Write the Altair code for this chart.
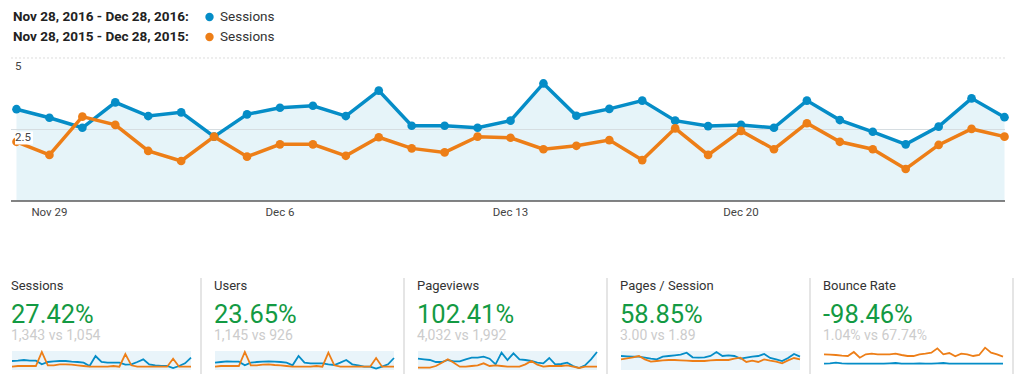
import altair as alt
import pandas as pd

# ---------------- data ----------------
days = list(range(31))  # Nov 28 .. Dec 28
sessions_2016 = [3.21, 2.91, 2.56, 3.45, 2.97, 3.10, 2.25, 3.03, 3.26, 3.33, 2.97,
                 3.86, 2.63, 2.63, 2.56, 2.81, 4.11, 2.98, 3.22, 3.51, 2.81, 2.62,
                 2.66, 2.56, 3.51, 2.83, 2.42, 1.98, 2.60, 3.59, 2.93]
sessions_2015 = [2.07, 1.61, 2.95, 2.66, 1.75, 1.40, 2.25, 1.55, 1.98, 1.98, 1.58,
                 2.23, 1.84, 1.70, 2.25, 2.21, 1.81, 1.93, 2.13, 1.43, 2.54, 1.61,
                 2.45, 1.81, 2.72, 2.07, 1.81, 1.12, 1.96, 2.52, 2.25]
tick_days = [1, 8, 15, 22]
tick_labels = ["Nov 29", "Dec 6", "Dec 13", "Dec 20"]
grid_values = [2.5, 5]
grid_labels = ["2.5", "5"]
legend_ranges = ["Nov 28, 2016 - Dec 28, 2016:", "Nov 28, 2015 - Dec 28, 2015:"]
legend_metric = ["Sessions", "Sessions"]

panel_titles = ["Sessions", "Users", "Pageviews", "Pages / Session", "Bounce Rate"]
panel_changes = ["27.42%", "23.65%", "102.41%", "58.85%", "-98.46%"]
panel_compare = ["1,343 vs 1,054", "1,145 vs 926", "4,032 vs 1,992", "3.00 vs 1.89", "1.04% vs 67.74%"]

spark_blue = [
    [27, 28, 30, 28, 28, 17, 24, 26, 27, 27, 25, 24, 22, 12, 42, 24, 22, 22, 22, 16, 17, 24, 32, 17, 14, 12, 12, 6, 12, 20, 37],
    [22, 24, 26, 25, 25, 14, 22, 24, 25, 26, 25, 24, 22, 14, 42, 22, 20, 20, 20, 17, 15, 22, 30, 17, 14, 10, 10, 4, 10, 17, 36],
    [34, 32, 30, 24, 24, 30, 26, 26, 32, 37, 37, 40, 34, 17, 52, 30, 50, 32, 30, 27, 22, 20, 36, 17, 18, 22, 12, 6, 14, 32, 54],
    [42, 41, 40, 40, 37, 34, 32, 40, 42, 44, 46, 52, 38, 37, 38, 42, 54, 42, 44, 42, 34, 37, 40, 42, 48, 36, 32, 27, 36, 48, 40],
    [19, 20, 22, 20, 19, 19, 19, 19, 19, 19, 19, 20, 21, 19, 19, 19, 20, 19, 19, 20, 21, 19, 19, 19, 19, 19, 19, 19, 19, 19, 19],
]
spark_orange = [
    [10, 12, 12, 12, 12, 54, 14, 14, 17, 17, 16, 14, 12, 10, 10, 10, 10, 12, 10, 48, 14, 10, 10, 10, 10, 10, 10, 34, 10, 10, 10],
    [10, 12, 12, 12, 12, 54, 14, 14, 16, 17, 15, 14, 12, 10, 10, 10, 10, 12, 10, 52, 14, 10, 10, 10, 10, 10, 10, 36, 10, 10, 10],
    [7, 7, 7, 12, 22, 32, 22, 10, 10, 12, 14, 20, 12, 14, 12, 10, 10, 10, 17, 27, 16, 10, 12, 12, 12, 14, 10, 6, 10, 10, 10],
    [32, 35, 38, 42, 32, 25, 27, 29, 30, 30, 29, 28, 27, 27, 27, 29, 30, 30, 30, 34, 37, 24, 28, 24, 32, 28, 25, 20, 29, 36, 32],
    [47, 46, 45, 43, 42, 54, 37, 47, 49, 47, 47, 47, 49, 45, 42, 42, 47, 49, 52, 65, 47, 51, 41, 49, 47, 42, 45, 67, 52, 47, 40],
]
spark_band = [0, 57]

BLUE = "#058dc7"
ORANGE = "#ed7e17"
GREEN = "#139a43"
FONT = "Roboto"

# ---------------- main chart ----------------
W, H = 994, 193
xs = alt.Scale(domain=[0, 30], range=[5.5, 993.5], nice=False, zero=False)
ys = alt.Scale(domain=[0, 6.748], nice=False, zero=False)

main_df = pd.DataFrame({"day": days, "cur": sessions_2016, "prev": sessions_2015})
grid_df = pd.DataFrame({"v": grid_values, "t": grid_labels})
tick_df = pd.DataFrame({"day": tick_days, "label": tick_labels})

base = alt.Chart(main_df)
X = alt.X("day:Q", scale=xs, axis=None)

area = base.mark_area(color="#e6f4f9").encode(
    x=X, y=alt.Y("cur:Q", scale=ys, axis=None), y2=alt.datum(0))
grid_mid = alt.Chart(grid_df[grid_df.v == 2.5]).mark_rule(color="#d6dde1", strokeWidth=1).encode(
    y=alt.Y("v:Q", scale=ys, axis=None))
grid_top = alt.Chart(grid_df[grid_df.v == 5]).mark_rule(color="#dddddd", strokeWidth=1, strokeDash=[2, 2]).encode(
    y=alt.Y("v:Q", scale=ys, axis=None))
axis_line = alt.Chart(pd.DataFrame({"v": [0]})).mark_rule(color="#5a5a5a", strokeWidth=1.5).encode(
    y=alt.Y("v:Q", scale=ys, axis=None))

blue_line = base.mark_line(color=BLUE, strokeWidth=3.5).encode(x=X, y=alt.Y("cur:Q", scale=ys, axis=None))
blue_pts = base.mark_point(color=BLUE, filled=True, opacity=1, size=75).encode(
    x=X, y=alt.Y("cur:Q", scale=ys, axis=None))
orange_line = base.mark_line(color=ORANGE, strokeWidth=3.5).encode(x=X, y=alt.Y("prev:Q", scale=ys, axis=None))
orange_pts = base.mark_point(color=ORANGE, filled=True, opacity=1, size=75).encode(
    x=X, y=alt.Y("prev:Q", scale=ys, axis=None))

label_box = alt.Chart(grid_df[grid_df.v == 2.5]).mark_rect(color="white", yOffset=2, y2Offset=15).encode(
    x=alt.value(4), x2=alt.value(22), y=alt.Y("v:Q", scale=ys, axis=None), y2="v:Q")
grid_text = alt.Chart(grid_df).mark_text(align="left", baseline="middle", dy=9, fontSize=11.5,
                                         color="#444444", font=FONT).encode(
    x=alt.value(4), y=alt.Y("v:Q", scale=ys, axis=None), text="t:N")
x_text = alt.Chart(tick_df).mark_text(baseline="middle", fontSize=11.5, color="#444444", font=FONT).encode(
    x=alt.X("day:Q", scale=xs, axis=None), y=alt.value(205), text="label:N")

legend_layers = []
legend_colors = [BLUE, ORANGE]
legend_y = [9, 29]
for k in range(2):
    ldf = pd.DataFrame({"r": [legend_ranges[k]], "m": [legend_metric[k]]})
    legend_layers.append(alt.Chart(ldf).mark_text(align="left", baseline="middle", fontSize=13.5,
                                                  fontWeight="bold", color="#222222", font=FONT).encode(
        x=alt.value(2), y=alt.value(legend_y[k]), text="r:N"))
    legend_layers.append(alt.Chart(ldf).mark_point(filled=True, opacity=1, size=70, color=legend_colors[k]).encode(
        x=alt.value(198.5), y=alt.value(legend_y[k])))
    legend_layers.append(alt.Chart(ldf).mark_text(align="left", baseline="middle", fontSize=13.5,
                                                  color="#333333", font=FONT).encode(
        x=alt.value(209), y=alt.value(legend_y[k]), text="m:N"))

top = alt.layer(area, grid_mid, grid_top, axis_line, blue_line, blue_pts, orange_line, orange_pts,
                label_box, grid_text, x_text, *legend_layers).properties(width=W, height=H)

# ---------------- metric panels ----------------
PW, PH = 180, 92
sx = alt.Scale(domain=[0, 30], range=[1, 180], nice=False, zero=False)
sy = alt.Scale(domain=[0, 276], nice=False, zero=False)


def panel(k):
    df = pd.DataFrame({"i": days, "b": spark_blue[k], "o": spark_orange[k]})
    tdf = pd.DataFrame({"t": [panel_titles[k]], "p": [panel_changes[k]], "c": [panel_compare[k]]})
    layers = []
    if k < 4:
        bdf = pd.DataFrame({"x0": [0], "x1": [30], "y0": [spark_band[0]], "y1": [spark_band[1]]})
        layers.append(alt.Chart(bdf).mark_rect(color="#e9f4fa").encode(
            x=alt.X("x0:Q", scale=sx, axis=None), x2="x1:Q",
            y=alt.Y("y0:Q", scale=sy, axis=None), y2="y1:Q"))
    c = alt.Chart(df)
    layers.append(c.mark_line(color=BLUE, strokeWidth=1.8).encode(
        x=alt.X("i:Q", scale=sx, axis=None), y=alt.Y("b:Q", scale=sy, axis=None)))
    layers.append(c.mark_line(color=ORANGE, strokeWidth=1.8).encode(
        x=alt.X("i:Q", scale=sx, axis=None), y=alt.Y("o:Q", scale=sy, axis=None)))
    t = alt.Chart(tdf)
    layers.append(t.mark_text(align="left", baseline="alphabetic", fontSize=13, color="#333333", font=FONT).encode(
        x=alt.value(0), y=alt.value(11.5), text="t:N"))
    layers.append(t.mark_text(align="left", baseline="alphabetic", fontSize=25.5, color=GREEN, font=FONT).encode(
        x=alt.value(0), y=alt.value(44.7), text="p:N"))
    layers.append(t.mark_text(align="left", baseline="alphabetic", fontSize=14, color="#cccccc", font=FONT).encode(
        x=alt.value(0), y=alt.value(62), text="c:N"))
    layers.append(t.mark_rule(color="#dddddd", strokeWidth=1.5).encode(
        x=alt.value(190), y=alt.value(0), y2=alt.value(96)))
    return alt.layer(*layers).properties(width=PW, height=PH)


bottom = alt.hconcat(*[panel(k) for k in range(5)], spacing=9)

chart = alt.vconcat(top, bottom, spacing=58).properties(padding=0).configure_view(strokeWidth=0)

chart.save("out.html", embed_options={"renderer": "svg", "actions": False})
